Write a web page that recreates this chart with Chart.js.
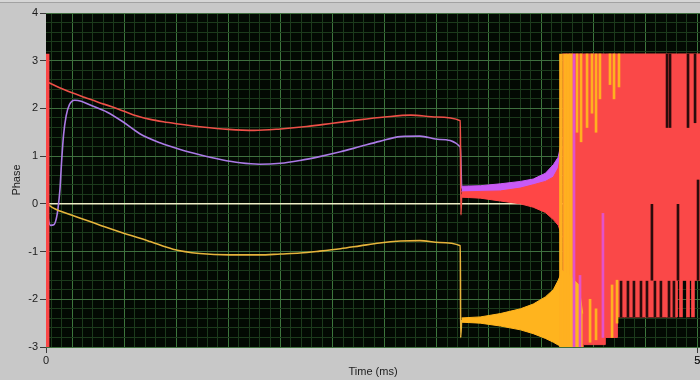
<!DOCTYPE html>
<html>
<head>
<meta charset="utf-8">
<script src="https://cdn.jsdelivr.net/npm/chart.js@4.4.1/dist/chart.umd.min.js"></script>
<style>
  html, body { margin: 0; padding: 0; background: #c8c8c8; }
  #wrap { width: 700px; height: 380px; position: relative; }
</style>
</head>
<body>
<div id="wrap"><canvas id="phaseChart" width="700" height="380"></canvas></div>
<script>
// ---- Axis labels -------------------------------------------------------
const xLabelTicks = [0, 5];
const yLabelTicks = [-3, -2, -1, 0, 1, 2, 3, 4];

// ---- Smooth phase traces (time in ms, phase in rad) --------------------
const redTime     = [0.015, 0.1, 0.2, 0.3, 0.4, 0.5, 0.6, 0.7, 0.8, 0.9, 1.0, 1.2, 1.4, 1.6, 1.8, 2.0, 2.2, 2.4, 2.6, 2.8, 3.0, 3.18, 3.185, 3.19];
const redPhase    = [2.55, 2.44, 2.33, 2.23, 2.13, 2.04, 1.94, 1.84, 1.77, 1.72, 1.68, 1.61, 1.56, 1.54, 1.57, 1.62, 1.69, 1.76, 1.82, 1.86, 1.82, 1.74, -0.23, 0.2];

const purpleTime  = [0.005, 0.02, 0.035, 0.06, 0.08, 0.092, 0.107, 0.12, 0.135, 0.155, 0.18, 0.22, 0.27, 0.34, 0.47, 0.59, 0.72, 0.875, 1.03, 1.18, 1.34, 1.49, 1.64, 1.80, 1.95, 2.10, 2.26, 2.41, 2.56, 2.72, 2.87, 3.02, 3.18, 3.19];
const purplePhase = [-0.05, -0.35, -0.45, -0.44, -0.3, -0.1, 0.3, 0.9, 1.45, 1.85, 2.08, 2.17, 2.15, 2.07, 1.92, 1.72, 1.47, 1.28, 1.14, 1.03, 0.93, 0.86, 0.83, 0.85, 0.91, 0.99, 1.09, 1.20, 1.31, 1.41, 1.42, 1.35, 1.19, 0.32];

const yellowTime  = [0.008, 0.05, 0.107, 0.2, 0.338, 0.45, 0.591, 0.722, 0.8, 0.975, 1.18, 1.41, 1.64, 1.80, 1.95, 2.10, 2.26, 2.41, 2.56, 2.72, 2.87, 3.02, 3.18, 3.183, 3.19];
const yellowPhase = [0.0, -0.08, -0.15, -0.24, -0.37, -0.48, -0.61, -0.72, -0.79, -0.95, -1.04, -1.07, -1.07, -1.05, -1.03, -0.99, -0.94, -0.88, -0.82, -0.78, -0.77, -0.81, -0.88, -2.8, -2.43];

const refTime     = [0, 5.02];
const refPhase    = [0, 0];

// ---- Noisy section after 3.19 ms: envelope of each trace ---------------
const bandTime     = [3.19, 3.333, 3.487, 3.641, 3.740, 3.833, 3.894, 3.932, 3.963];
const purpleBandHi = [0.37, 0.38, 0.42, 0.47, 0.52, 0.64, 0.82, 0.98, 1.4];
const purpleBandLo = [0.26, 0.26, 0.25, 0.25, 0.25, 0.30, 0.40, 0.50, 0.60];
const redBandHi    = [0.25, 0.26, 0.27, 0.33, 0.40, 0.47, 0.56, 0.75, 1.2];
const redBandLo    = [0.14, 0.12, 0.06, 0.0, -0.07, -0.18, -0.33, -0.45, -0.7];

const yellowBandTime = [3.19, 3.333, 3.487, 3.641, 3.740, 3.833, 3.894, 3.932, 3.963, 4.02, 4.09, 4.12];
const yellowBandHi   = [-2.39, -2.37, -2.30, -2.20, -2.10, -1.95, -1.80, -1.60, -1.40, -1.50, -1.70, -2.3];
const yellowBandLo   = [-2.48, -2.50, -2.56, -2.64, -2.72, -2.82, -2.90, -2.96, -3.0, -3.0, -3.0, -3.0];

// Wrapped region: phase spans the full +/- pi range (lower edge is a staircase)
const wrapTime   = [3.963, 4.124, 4.124, 4.293, 4.293, 4.386, 4.386, 4.846, 4.846, 5.02];
const wrapTop    = [3.1416, 3.1416, 3.1416, 3.1416, 3.1416, 3.1416, 3.1416, 3.1416, 3.1416, 3.1416];
const wrapBottom = [-3.0, -3.0, -2.95, -2.95, -2.8, -2.8, -2.37, -2.37, -1.6, -1.6];

// ---- Individual streaks inside the wrapped region ----------------------
const yellowColumnTime = [3.953, 3.984, 4.007, 4.03];
const yellowColumnLo   = [-3.0, -3.0, -3.0, -2.0];
const yellowColumnHi   = [3.1416, 3.1416, 3.1416, 3.1416];

const yellowStreakTime = [0.01, 4.076, 4.107, 4.153, 4.191, 4.222, 4.252, 4.329, 4.36, 4.398, 4.345, 4.383, 4.176, 4.222];
const yellowStreakLo   = [0.1, 1.5, 1.3, 1.6, 1.9, 1.5, 2.2, 2.5, 2.2, 2.45, -2.8, -2.5, -2.9, -2.85];
const yellowStreakHi   = [0.8, 3.1416, 3.1416, 3.1416, 3.1416, 3.1416, 3.1416, 3.1416, 3.1416, 3.1416, -1.7, -1.6, -2.0, -2.2];

const pinkStreakTime = [4.053, 4.099, 4.275];
const pinkStreakLo   = [-3.0, -3.0, -2.8];
const pinkStreakHi   = [3.1416, -1.5, -0.2];

const redStreakTime = [0.012, 4.874, 4.928, 4.966];
const redStreakLo   = [-3.1416, -2.37, -2.37, -2.37];
const redStreakHi   = [3.1416, -1.6, -1.6, -1.6];

const gapTime = [4.767, 4.79, 4.928, 4.982, 4.651, 4.851, 5.005, 4.414, 4.467, 4.513, 4.567, 4.613, 4.674, 4.72, 4.782, 4.82];
const gapLo   = [1.6, 1.6, 1.6, 1.7, -1.6, -1.6, -1.6, -2.37, -2.37, -2.37, -2.37, -2.37, -2.37, -2.37, -2.37, -2.37];
const gapHi   = [3.1416, 3.1416, 3.1416, 3.1416, 0.0, 0.0, 0.5, -1.62, -1.62, -1.62, -1.62, -1.62, -1.62, -1.62, -1.62, -1.62];

// ---- Helpers -----------------------------------------------------------
const toPoints = (xs, ys) => xs.map((x, i) => ({ x, y: ys[i] }));
const toBars = (xs, lo, hi) => xs.map((x, i) => ({ x, y: [lo[i], hi[i]] }));

const line = (data, color, width) => ({
  type: 'line', data, borderColor: color, borderWidth: width,
  pointRadius: 0, fill: false, cubicInterpolationMode: 'monotone'
});
const bandEdge = (data, color, fillPrev) => ({
  type: 'line', data, borderColor: color, borderWidth: 1,
  backgroundColor: color, pointRadius: 0, fill: fillPrev ? '-1' : false
});
const streaks = (data, color, thickness) => ({
  type: 'bar', data, backgroundColor: color, borderWidth: 0,
  barThickness: thickness, grouped: false
});

// Grid positions: minor every 0.08 ms, major every 0.4 ms; phase minor 0.2, major 1
const xGridValues = [0, 5];
for (let k = 0; 0.04 + 0.08 * k <= 5.02; k++) {
  xGridValues.push(Math.round((0.04 + 0.08 * k) * 1000) / 1000);
}
xGridValues.sort((a, b) => a - b);
const isMajorX = v => Math.abs((v - 0.2) / 0.4 - Math.round((v - 0.2) / 0.4)) < 1e-6;
const yGridValues = [];
for (let k = -15; k <= 20; k++) yGridValues.push(k / 5);
const isInt = v => Math.abs(v - Math.round(v)) < 1e-6;

const datasetsBottomToTop = [
  line(toPoints(refTime, refPhase), '#efedc6', 1.5),
  line(toPoints(purpleTime, purplePhase), '#ab7be6', 1.6),
  line(toPoints(yellowTime, yellowPhase), '#e6b43c', 1.6),
  line(toPoints(redTime, redPhase), '#ee5048', 1.6),
  bandEdge(toPoints(bandTime, purpleBandLo), '#c85af5', false),
  bandEdge(toPoints(bandTime, purpleBandHi), '#c85af5', true),
  bandEdge(toPoints(bandTime, redBandLo), '#ff4646', false),
  bandEdge(toPoints(bandTime, redBandHi), '#ff4646', true),
  bandEdge(toPoints(wrapTime, wrapBottom), '#fa4848', false),
  bandEdge(toPoints(wrapTime, wrapTop), '#fa4848', true),
  bandEdge(toPoints(yellowBandTime, yellowBandLo), '#ffb41e', false),
  bandEdge(toPoints(yellowBandTime, yellowBandHi), '#ffb41e', true),
  streaks(toBars(yellowColumnTime, yellowColumnLo, yellowColumnHi), '#ffb020', 3),
  streaks(toBars(yellowStreakTime, yellowStreakLo, yellowStreakHi), '#ffb020', 2),
  streaks(toBars(pinkStreakTime, pinkStreakLo, pinkStreakHi), '#e452c8', 2),
  streaks(toBars(redStreakTime, redStreakLo, redStreakHi), '#fa4646', 3),
  streaks(toBars(gapTime, gapLo, gapHi), '#2a0c0c', 2)
];
datasetsBottomToTop.forEach((d, i) => { d.order = datasetsBottomToTop.length - i; });

const font = { family: "'Liberation Sans', Arial, sans-serif", size: 11 };
const textColor = '#1c1c1c';

// Panel background, thin top rule and black plot area
const panelPlugin = {
  id: 'panel',
  beforeDraw(chart) {
    const { ctx, chartArea: a } = chart;
    ctx.save();
    ctx.fillStyle = '#c8c8c8';
    ctx.fillRect(0, 0, chart.width, chart.height);
    ctx.fillStyle = '#d6d6d6';
    ctx.fillRect(0, 0, chart.width, 2);
    ctx.fillStyle = '#a2a2a2';
    ctx.fillRect(0, 2, chart.width, 1);
    ctx.fillStyle = '#030903';
    ctx.fillRect(a.left, a.top, a.right - a.left, a.bottom - a.top);
    ctx.restore();
  }
};

new Chart(document.getElementById('phaseChart'), {
  type: 'line',
  data: { datasets: datasetsBottomToTop },
  options: {
    responsive: false,
    devicePixelRatio: 1,
    animation: false,
    events: [],
    layout: { padding: { top: 13, right: 0, bottom: 0, left: 0 } },
    plugins: { legend: { display: false }, tooltip: { enabled: false } },
    scales: {
      x: {
        type: 'linear', min: 0, max: 5.02, offset: false,
        afterBuildTicks: s => { s.ticks = xGridValues.map(v => ({ value: v })); },
        afterFit: s => { s.height = 33; s.paddingLeft = 0; s.paddingRight = 0; },
        border: { display: false },
        grid: {
          offset: false, tickLength: 6, lineWidth: 1,
          color: c => (c.tick && (c.tick.value === 0)) ? 'rgba(0,0,0,0)' :
                      (c.tick && isMajorX(c.tick.value)) ? '#3c763c' : '#1c3a1c',
          tickColor: c => (c.tick && xLabelTicks.includes(c.tick.value)) ? '#3a3a3a' : 'rgba(0,0,0,0)'
        },
        ticks: {
          autoSkip: false, maxRotation: 0, minRotation: 0, padding: 1,
          font, color: textColor,
          callback: v => xLabelTicks.includes(v) ? String(v) : ''
        },
        title: { display: true, text: 'Time (ms)', padding: { top: 0, bottom: 1 }, font, color: textColor }
      },
      y: {
        type: 'linear', min: -3, max: 4,
        afterBuildTicks: s => { s.ticks = yGridValues.map(v => ({ value: v })); },
        afterFit: s => { s.width = 46; },
        border: { display: false },
        grid: {
          tickLength: 6, lineWidth: 1,
          color: c => (c.tick && isInt(c.tick.value)) ? '#3f6f3f' : '#1c3a1c',
          tickColor: c => (c.tick && isInt(c.tick.value)) ? '#3a3a3a' : 'rgba(0,0,0,0)'
        },
        ticks: {
          autoSkip: false, padding: 2, font, color: textColor,
          callback: v => (isInt(v) && yLabelTicks.includes(Math.round(v))) ? String(Math.round(v)) : ''
        },
        title: { display: true, text: 'Phase', padding: { top: 10, bottom: 0 }, font, color: textColor }
      }
    }
  },
  plugins: [panelPlugin]
});
</script>
</body>
</html>
